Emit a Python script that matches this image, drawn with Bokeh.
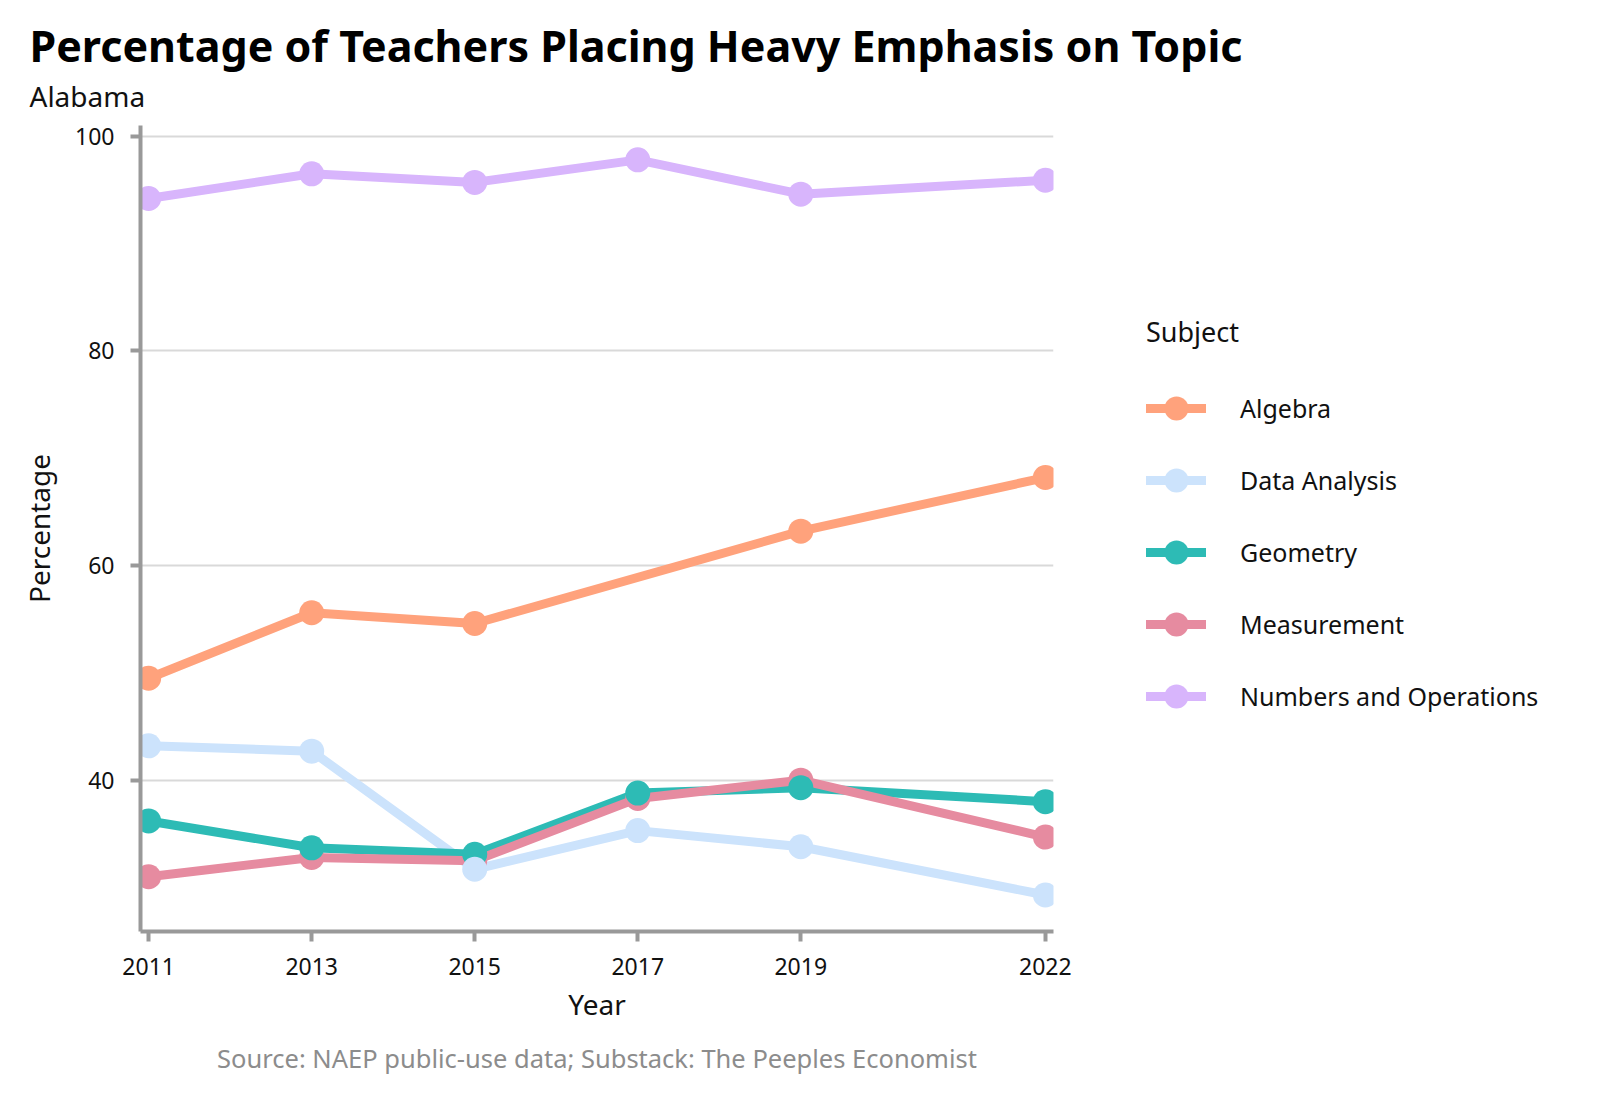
from bokeh.plotting import figure
from bokeh.models import (Range1d, FixedTicker, Legend, LegendItem, Title)
from bokeh.embed import file_html
from bokeh.resources import INLINE

# ---- data ----
years = [2011, 2013, 2015, 2017, 2019, 2022]
algebra_years = [2011, 2013, 2015, 2019, 2022]
algebra = [49.5, 55.6, 54.6, 63.2, 68.2]
data_analysis = [43.2, 42.7, 31.7, 35.3, 33.8, 29.3]
geometry = [36.2, 33.7, 33.1, 38.8, 39.3, 38.0]
measurement = [31.0, 32.8, 32.5, 38.3, 40.0, 34.7]
numbers_ops = [94.2, 96.5, 95.7, 97.8, 94.6, 95.9]

subjects = ["Algebra", "Data Analysis", "Geometry", "Measurement", "Numbers and Operations"]
colors = ["#FFA27C", "#CCE3FC", "#2DBBB5", "#E68BA0", "#D8B5FC"]
series_x = [algebra_years, years, years, years, years]
series_y = [algebra, data_analysis, geometry, measurement, numbers_ops]

x_ticks = [2011, 2013, 2015, 2017, 2019, 2022]
y_ticks = [40, 60, 80, 100]

FONT = "Noto Sans"

p = figure(output_backend="svg", toolbar_location=None,
           frame_width=913, frame_height=806,
           x_range=Range1d(2010.9, 2022.1), y_range=Range1d(25.9, 101.0),
           min_border_left=140, min_border_top=125, min_border_bottom=20,
           min_border_right=500, background_fill_color="white",
           border_fill_color="white", outline_line_color=None)

line_renderers = []
for xs, ys, c in zip(series_x, series_y, colors):
    r = p.line(xs, ys, line_color=c, line_width=9, line_cap="round", line_join="round")
    line_renderers.append(r)
pt_renderers = [None] * len(subjects)
for i in reversed(range(len(subjects))):
    pt_renderers[i] = p.scatter(series_x[i], series_y[i], size=25, fill_color=colors[i],
                                line_color=None, marker="circle")

items = [LegendItem(label=s, renderers=[line_renderers[i], pt_renderers[i]])
         for i, s in enumerate(subjects)]
legend = Legend(items=items, title="Subject", location=(93, 203),
                title_text_font=FONT, title_text_font_size="27px", title_text_color="#111111",
                title_text_font_style="normal", title_standoff=26,
                label_text_font=FONT, label_text_font_size="25px", label_text_color="#111111",
                glyph_width=60, glyph_height=64, spacing=8, label_standoff=34,
                margin=0, padding=0, border_line_color=None, background_fill_alpha=0)
p.add_layout(legend, "right")

# axes
for ax in (p.xaxis[0], p.yaxis[0]):
    ax.axis_line_color = "#999999"
    ax.axis_line_width = 4
    ax.major_tick_line_color = "#999999"
    ax.major_tick_line_width = 4
    ax.major_tick_out = 10
    ax.major_tick_in = 0
    ax.minor_tick_line_color = None
    ax.major_label_text_font = FONT
    ax.major_label_text_font_size = "23px"
    ax.major_label_text_color = "#111111"
    ax.axis_label_text_font = FONT
    ax.axis_label_text_font_size = "28px"
    ax.axis_label_text_font_style = "normal"
    ax.axis_label_text_color = "#111111"

p.xaxis.ticker = FixedTicker(ticks=x_ticks)
p.yaxis.ticker = FixedTicker(ticks=y_ticks)
p.xaxis.axis_label = "Year"
p.yaxis.axis_label = "Percentage"
p.xaxis.major_label_standoff = 16
p.yaxis.major_label_standoff = 16
p.xaxis.axis_label_standoff = 7
p.yaxis.axis_label_standoff = 14

p.xgrid.grid_line_color = None
p.ygrid.grid_line_color = "#d9d9d9"
p.ygrid.grid_line_width = 2
p.ygrid.ticker = FixedTicker(ticks=y_ticks)

# titles
p.title = None
sub = Title(text="Alabama", align="left", offset=-111, text_font=FONT,
            text_font_size="28px", text_font_style="normal", text_color="#111111",
            standoff=21)
p.add_layout(sub, "above")
main = Title(text="Percentage of Teachers Placing Heavy Emphasis on Topic", align="left",
             offset=-111, text_font=FONT, text_font_size="43px", text_font_style="bold",
             text_color="#000000", standoff=-20)
p.add_layout(main, "above")

src = Title(text="Source: NAEP public-use data; Substack: The Peeples Economist",
            align="center", text_font=FONT, text_font_size="25.5px",
            text_font_style="normal", text_color="#8c8c8c", standoff=26)
p.add_layout(src, "below")

open("out.html", "w").write(file_html(p, INLINE))
